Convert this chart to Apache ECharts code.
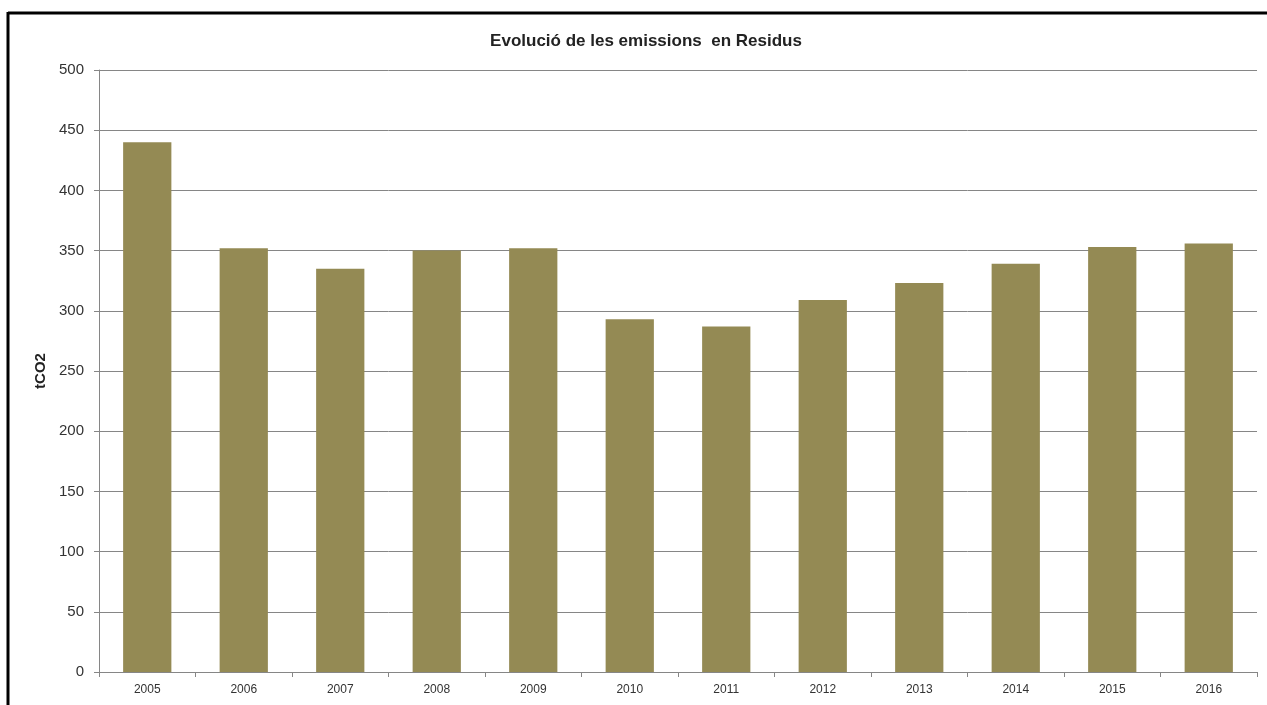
<!DOCTYPE html>
<html>
<head>
<meta charset="utf-8">
<script src="https://cdn.jsdelivr.net/npm/echarts@6/dist/echarts.min.js"></script>
<style>
html,body{margin:0;padding:0;background:#fff;}
#chart{width:1267px;height:705px;}
</style>
</head>
<body>
<div id="chart"></div>
<script>
const titleText = 'Evolució de les emissions  en Residus';
const yAxisName = 'tCO2';
const years = ['2005','2006','2007','2008','2009','2010','2011','2012','2013','2014','2015','2016'];
const emissions = [440, 352, 335, 350, 352, 293, 287, 309, 323, 339, 353, 356];

const chart = echarts.init(document.getElementById('chart'), null, {renderer:'canvas'});
chart.setOption({
  backgroundColor: '#ffffff',
  animation: false,
  title: {
    text: titleText,
    left: 641, top: 28, textAlign: 'center',
    textStyle: {fontFamily: 'Liberation Sans', fontWeight: 'bold', fontSize: 17, color: '#222'}
  },
  graphic: [
    {type: 'line', shape: {x1: 8, y1: 13, x2: 1267, y2: 13}, style: {stroke: '#000', lineWidth: 3}},
    {type: 'line', shape: {x1: 8, y1: 12, x2: 8, y2: 705}, style: {stroke: '#000', lineWidth: 3}}
  ],
  grid: {left: 99, right: 10, top: 70, bottom: 33, containLabel: false},
  xAxis: {
    type: 'category',
    data: years,
    boundaryGap: true,
    axisLine: {lineStyle: {color: '#868686', width: 1}},
    axisTick: {show: true, alignWithLabel: false, length: 5, lineStyle: {color: '#868686'}},
    axisLabel: {fontFamily: 'Liberation Sans', fontSize: 12, color: '#333', margin: 12}
  },
  yAxis: {
    type: 'value',
    min: 0, max: 500, interval: 50,
    name: yAxisName,
    nameLocation: 'middle',
    nameGap: 48,
    nameRotate: 90,
    nameTextStyle: {fontFamily: 'Liberation Sans', fontWeight: 'bold', fontSize: 15, color: '#222'},
    axisLine: {show: true, lineStyle: {color: '#868686', width: 1}},
    axisTick: {show: true, length: 5, lineStyle: {color: '#868686'}},
    axisLabel: {fontFamily: 'Liberation Sans', fontSize: 15, color: '#333', margin: 15},
    splitLine: {show: true, lineStyle: {color: '#868686', width: 1}}
  },
  series: [{
    type: 'bar',
    data: emissions,
    barCategoryGap: '50%',
    itemStyle: {color: '#948a54'}
  }]
});
</script>
</body>
</html>
